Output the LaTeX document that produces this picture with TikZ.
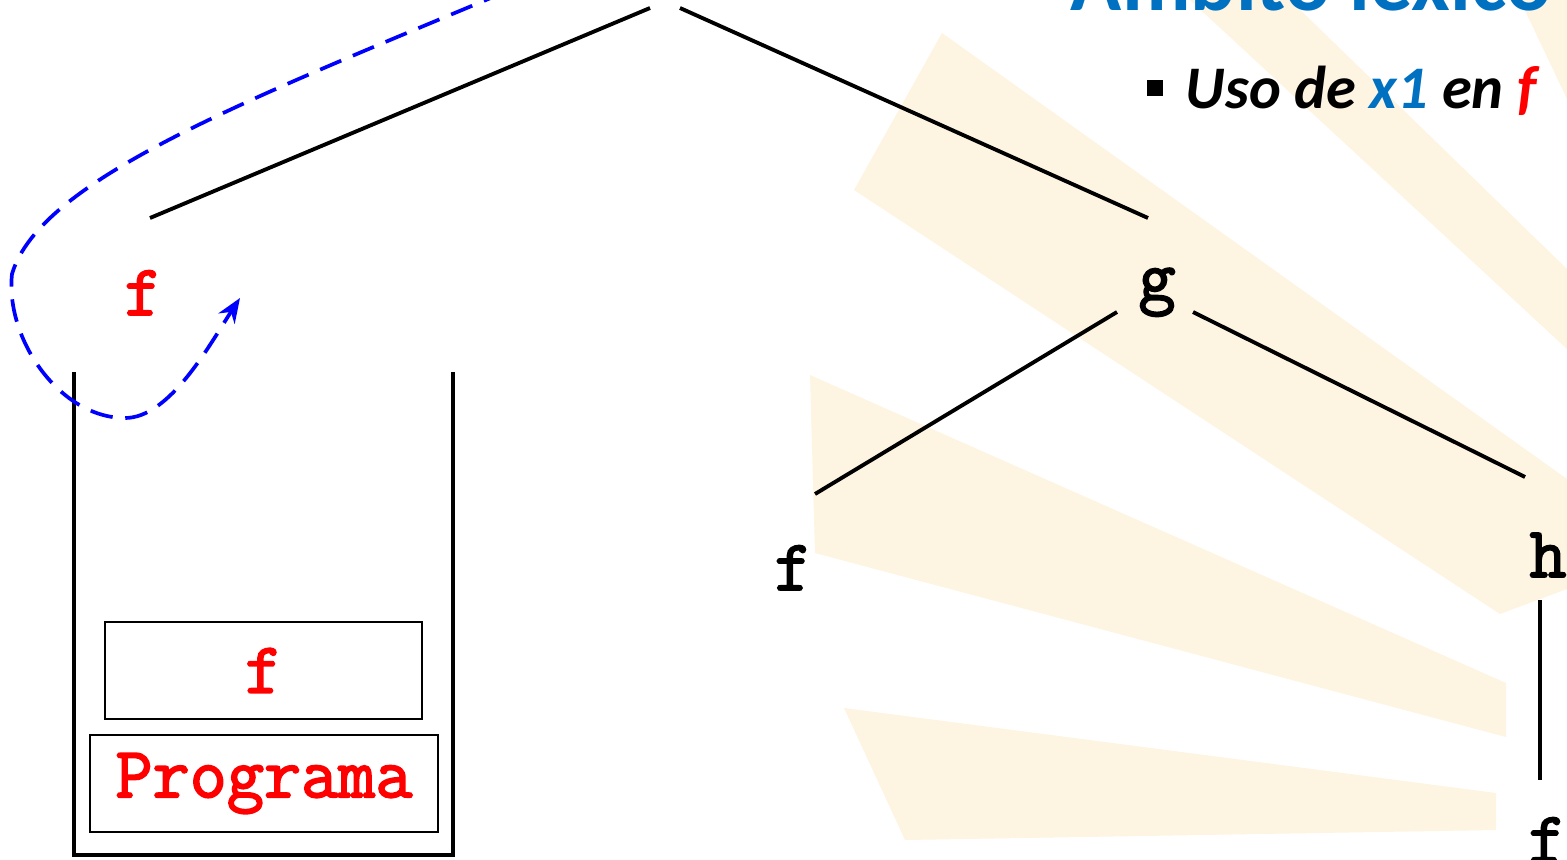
\documentclass[tikz,border=0pt]{standalone}
\usepackage{fontspec}
\newfontfamily\slidefont{Carlito}
\newfontfamily\codefont{Latin Modern Mono}[FakeBold=2.4]
\usetikzlibrary{positioning,arrows.meta}

\definecolor{slideblue}{RGB}{0,112,192}
\definecolor{raysun}{RGB}{253,244,225}

\begin{document}
\begin{tikzpicture}[x=0.01cm,y=0.01cm,
  every node/.style={inner sep=0pt},
  fun/.style={font=\fontsize{20.5}{22}\selectfont\codefont},
  edge/.style={line width=1.1pt},
  frame/.style={draw,line width=0.6pt,minimum height=0.97cm,fun},
  call/.style={draw=blue,line width=1.05pt,dash pattern=on 6.5pt off 3.6pt,-{Stealth[length=7pt,width=5.5pt]}}]
  \useasboundingbox (0,0) rectangle (1567,859);
  % sun rays of the slide background
  \fill[raysun] (942,826) -- (854,669) -- (1500,245) -- (1567,270) -- (1567,380) -- cycle;
  \fill[raysun] (810,484) -- (815,306) -- (1506,122) -- (1506,176) -- cycle;
  \fill[raysun] (844,151) -- (905,19) -- (1496,29) -- (1496,66) -- cycle;
  \fill[raysun] (1190,859) -- (1290,859) -- (1567,590) -- (1567,510) -- cycle;
  \fill[raysun] (1520,859) -- (1567,859) -- (1567,760) -- cycle;

  % slide title and bullet
  \node[anchor=base east,text=slideblue,font=\slidefont\bfseries\fontsize{24}{28}\selectfont] (title) at (1552,849) {Ámbito léxico};
  \node[anchor=base west,font=\slidefont\bfseries\itshape\fontsize{17.2}{20}\selectfont] (use) at (1185,751) {Uso de \textcolor{slideblue}{x1} en \textcolor{red}{f}};
  \node[fill,minimum size=0.16cm] (dot) at (1155,771) {};

  % call tree
  \coordinate (root) at (665,880);
  \node[fun,text=red,anchor=base] (fL) at (143,544) {f};
  \node[fun,anchor=base] (g) at (1157,559) {g};
  \node[fun,anchor=base] (fM) at (793,269) {f};
  \node[fun,anchor=base] (h) at (1548,282) {h};
  \node[fun,anchor=base] (fB) at (1547,-3) {f};
  \draw[edge] ([shift={(-15,-29)}]root) -- ([shift={(7,97)}]fL.base);
  \draw[edge] ([shift={(15,-29)}]root) -- ([shift={(-9,82)}]g.base);
  \draw[edge] ([shift={(-40,-12)}]g.base) -- ([shift={(22,96)}]fM.base);
  \draw[edge] ([shift={(36,-12)}]g.base) -- ([shift={(-23,100)}]h.base);
  \draw[edge] ([shift={(-8,-23)}]h.base) -- ([shift={(-7,82)}]fB.base);

  % stack of activation records
  \draw[line width=1.15pt] (74,487) |- (453,4) -- (453,487);
  \node[frame,text=red,minimum width=3.17cm] (top) at (263.5,188.5) {f};
  \node[frame,text=red,minimum width=3.48cm] (prog) at (264,75.5) {Programa};

  % static link
  \coordinate (callfrom) at (505,867);
  \draw[call] (callfrom) .. controls (250,760) and (40,680) .. (12,585)
    .. controls (5,520) and (60,441) .. (125,441)
    .. controls (170,441) and (210,515) .. ([shift={(97,17)}]fL.base);
\end{tikzpicture}
\end{document}
